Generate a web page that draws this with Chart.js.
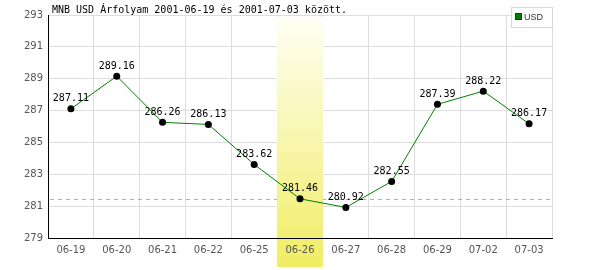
<!DOCTYPE html>
<html>
<head>
<meta charset="utf-8">
<script src="https://cdn.jsdelivr.net/npm/chart.js@4"></script>
<style>
  body { margin: 0; background: #fff; }
  #wrap { width: 600px; height: 270px; }
</style>
</head>
<body>
<div id="wrap"><canvas id="arfolyam" width="600" height="270"></canvas></div>
<script>
// adatok
const napok = ['06-19', '06-20', '06-21', '06-22', '06-25', '06-26', '06-27', '06-28', '06-29', '07-02', '07-03'];
const usd = [287.11, 289.16, 286.26, 286.13, 283.62, 281.46, 280.92, 282.55, 287.39, 288.22, 286.17];
const yOsztas = [279, 281, 283, 285, 287, 289, 291, 293];
const kiemelt = 5; // 06-26
const cim = 'MNB USD Árfolyam 2001-06-19 és 2001-07-03 között.';
const sorozatNev = 'USD';

function sarga(ctx, area) {
    const g = ctx.createLinearGradient(0, area.top, 0, 267);
    g.addColorStop(0, 'rgb(255, 255, 245)');
    g.addColorStop(1, 'rgb(240, 237, 100)');
    return g;
}

function oszlop(chart) {
    const x = chart.scales.x;
    const w = x.width / napok.length;
    const c = x.getPixelForValue(kiemelt);
    return [Math.round(c - w / 2), Math.round(c + w / 2)];
}

// kiemelt nap hattere + szaggatott vonal
const kiemeles = {
    id: 'kiemeles',
    beforeDraw(chart) {
        const ctx = chart.ctx, area = chart.chartArea;
        const [x0, x1] = oszlop(chart);
        ctx.save();
        ctx.fillStyle = sarga(ctx, area);
        ctx.fillRect(x0, area.bottom + 1, x1 - x0, 267 - area.bottom - 1);
        ctx.restore();
    },
    beforeDatasetsDraw(chart) {
        const ctx = chart.ctx, area = chart.chartArea;
        const y = Math.round(chart.scales.y.getPixelForValue(usd[kiemelt])) + 0.5;
        ctx.save();
        ctx.strokeStyle = '#7fd07f';
        ctx.lineWidth = 1;
        ctx.setLineDash([4, 4]);
        ctx.beginPath();
        ctx.moveTo(area.left + 2, y);
        ctx.lineTo(area.right, y);
        ctx.stroke();
        ctx.setLineDash([]);
        const [x0, x1] = oszlop(chart);
        ctx.fillStyle = sarga(ctx, area);
        ctx.fillRect(x0, area.top + 2, x1 - x0, area.bottom - area.top - 2);
        ctx.restore();
    },
    afterDatasetsDraw(chart) {
        const ctx = chart.ctx;
        const meta = chart.getDatasetMeta(0);
        ctx.save();
        ctx.font = '10px "DejaVu Sans Mono", monospace';
        ctx.fillStyle = '#000';
        ctx.textAlign = 'center';
        ctx.textBaseline = 'middle';
        meta.data.forEach((p, i) => {
            ctx.fillText(usd[i].toFixed(2), p.x, p.y - 10);
        });
        ctx.restore();
    },
    afterDraw(chart) {
        const ctx = chart.ctx, area = chart.chartArea;
        ctx.save();
        // cim
        ctx.font = '10px "DejaVu Sans Mono", monospace';
        ctx.fillStyle = '#000';
        ctx.textAlign = 'left';
        ctx.textBaseline = 'alphabetic';
        ctx.fillText(cim, area.left + 4, 13);
        // jelmagyarazat
        ctx.fillStyle = '#fff';
        ctx.fillRect(511, 7, 41, 20);
        ctx.strokeStyle = '#d8d8d8';
        ctx.lineWidth = 1;
        ctx.strokeRect(511.5, 7.5, 41, 20);
        ctx.fillStyle = '#008000';
        ctx.fillRect(516, 14, 6, 6);
        ctx.strokeStyle = '#114411';
        ctx.strokeRect(515.5, 13.5, 6, 6);
        ctx.fillStyle = '#333';
        ctx.font = '9px "Liberation Sans Narrow", "Liberation Sans", sans-serif';
        ctx.textBaseline = 'middle';
        ctx.fillText(sorozatNev, 524, 17.5);
        ctx.restore();
    }
};

const arfolyam = new Chart(
    document.getElementById('arfolyam'), {
    type: 'line',
    data: {
        labels: napok,
        datasets: [{
            label: sorozatNev,
            data: usd,
            borderColor: '#008000',
            borderWidth: 1,
            tension: 0,
            fill: false,
            pointStyle: 'circle',
            pointRadius: 3.5,
            pointBackgroundColor: '#000',
            pointBorderColor: '#000',
            pointBorderWidth: 0,
            pointHoverRadius: 3.5
        }]
    },
    options: {
        responsive: false,
        animation: false,
        devicePixelRatio: 1,
        layout: { padding: { top: 15, right: 48, left: 0, bottom: 0 } },
        plugins: {
            legend: { display: false },
            title: { display: false },
            tooltip: { enabled: false }
        },
        scales: {
            x: {
                type: 'category',
                offset: true,
                grid: { offset: true, color: '#dddddd', drawTicks: false },
                border: { color: '#000', width: 1 },
                ticks: {
                    color: '#555',
                    font: { family: '"DejaVu Sans", sans-serif', size: 10 },
                    padding: 6,
                    maxRotation: 0,
                    autoSkip: false
                },
                afterFit(s) { s.height = 32; }
            },
            y: {
                min: 279,
                max: 293,
                afterBuildTicks(s) { s.ticks = yOsztas.map(v => ({ value: v })); },
                grid: { color: '#dddddd', drawTicks: false },
                border: { color: '#000', width: 1 },
                ticks: {
                    color: '#555',
                    font: { family: '"DejaVu Sans", sans-serif', size: 10 },
                    padding: 5
                },
                afterFit(s) { s.width = 48; }
            }
        }
    },
    plugins: [kiemeles]
});
</script>
</body>
</html>
